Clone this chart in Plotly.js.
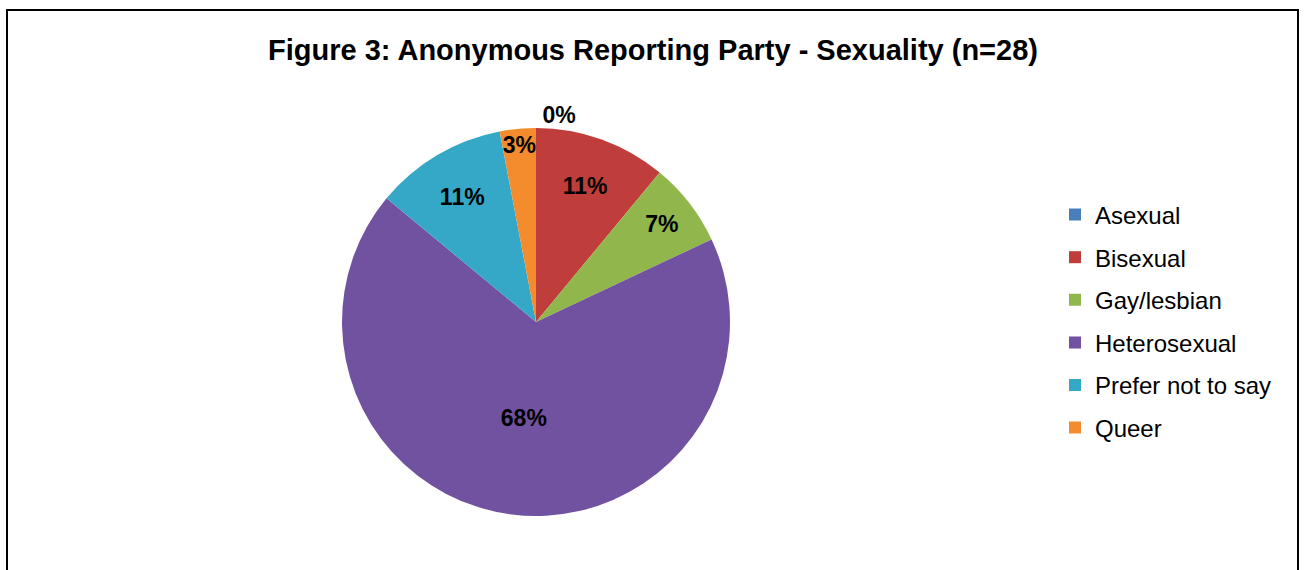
<!DOCTYPE html>
<html>
<head>
<meta charset="utf-8">
<script src="https://cdn.plot.ly/plotly-3.0.1.min.js"></script>
<style>
  html, body { margin: 0; padding: 0; background: #ffffff; overflow: hidden; }
  #chart { width: 1306px; height: 570px; }
</style>
</head>
<body>
<div id="chart"></div>
<script>
// ---- data ----
var categories = ["Asexual", "Bisexual", "Gay/lesbian", "Heterosexual", "Prefer not to say", "Queer"];
var percentValues = [0, 11, 7, 68, 11, 3];
var sliceColors = ["#4A7EBB", "#BF3D3A", "#90B64C", "#7152A0", "#34A8C6", "#F48C2E"];
var chartTitle = "Figure 3: Anonymous Reporting Party - Sexuality (n=28)";

var W = 1306, H = 570;
var FONT = "Liberation Sans, Arial, sans-serif";

// pie geometry (pixels in the 1306x570 frame)
var cx = 536, cy = 322, r = 194;

// empty slices get their label outside the pie, the rest inside
var textPositions = percentValues.map(function (v) { return v === 0 ? "outside" : "inside"; });

var pie = {
  type: "pie",
  labels: categories,
  values: percentValues,
  sort: false,
  direction: "clockwise",
  rotation: 0,
  showlegend: false,
  marker: { colors: sliceColors, line: { width: 0 } },
  texttemplate: "%{percent:.0%}",
  textposition: textPositions,
  insidetextorientation: "horizontal",
  textfont: { family: FONT, size: 23, color: "#000000", weight: "bold" },
  outsidetextfont: { family: FONT, size: 23, color: "#000000", weight: "bold" },
  hoverinfo: "label+percent",
  domain: {
    x: [(cx - r) / W, (cx + r) / W],
    y: [1 - (cy + r) / H, 1 - (cy - r) / H]
  }
};

var traces = [pie];
var layout = {
  width: W, height: H,
  margin: { l: 0, r: 0, t: 0, b: 0 },
  paper_bgcolor: "#ffffff",
  plot_bgcolor: "#ffffff",
  font: { family: FONT, color: "#000000" },
  uniformtext: { mode: "show", minsize: 23 },
  title: {
    text: "<b>" + chartTitle + "</b>",
    font: { family: FONT, size: 29, color: "#000000" },
    x: 0.5, xanchor: "center",
    y: 1 - 50 / H, yanchor: "middle"
  },
  xaxis: { visible: false, range: [0, 1] },
  yaxis: { visible: false, range: [0, 1] },
  showlegend: true,
  shapes: [{
    type: "rect", xref: "paper", yref: "paper",
    x0: 7 / W, x1: 1298 / W, y0: -0.2, y1: 1 - 10 / H,
    line: { color: "#000000", width: 2 }, fillcolor: "rgba(0,0,0,0)"
  }]
};

// legend: one legend per category so the entries can be spaced like the original
var legendTop = 215, legendStep = 42.6;
categories.forEach(function (name, i) {
  var key = i === 0 ? "legend" : "legend" + (i + 1);
  traces.push({
    type: "scatter", mode: "markers", x: [null], y: [null],
    name: name, legend: key, showlegend: true, hoverinfo: "skip",
    marker: { symbol: "square", size: 12, color: sliceColors[i] }
  });
  layout[key] = {
    x: 1055 / W, xanchor: "left",
    y: 1 - (legendTop + i * legendStep) / H, yanchor: "middle",
    bgcolor: "rgba(0,0,0,0)", borderwidth: 0,
    font: { family: FONT, size: 24, color: "#000000" }
  };
});

Plotly.newPlot("chart", traces, layout, { staticPlot: true, displayModeBar: false });
</script>
</body>
</html>
